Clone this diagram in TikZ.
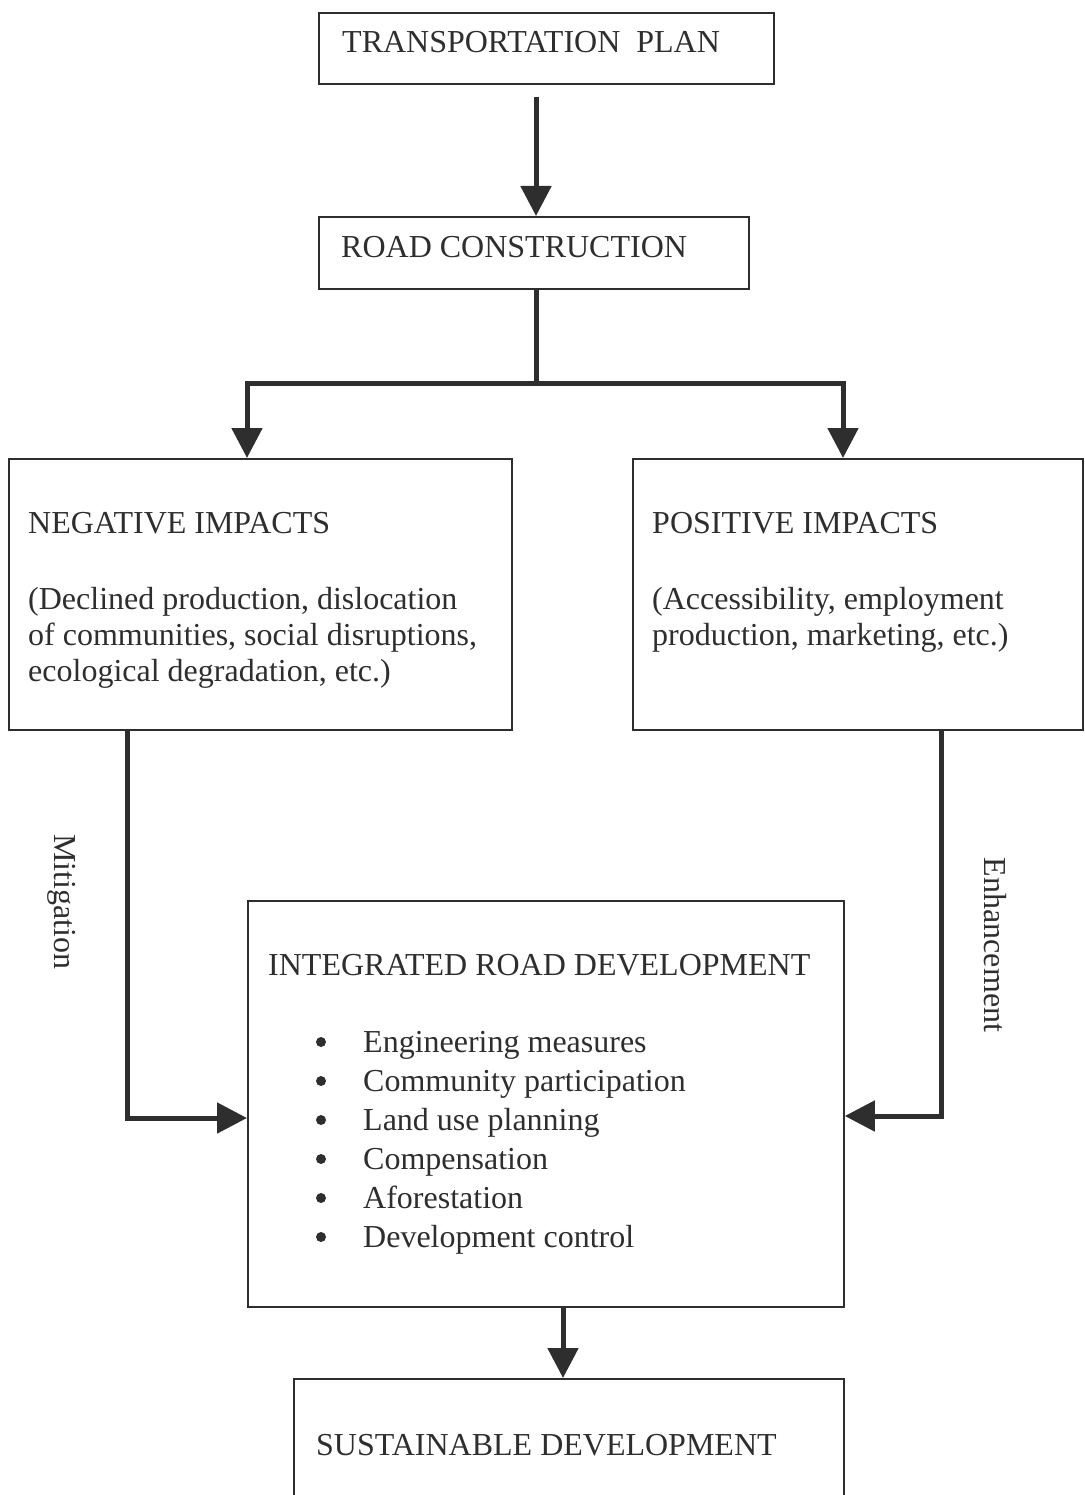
\documentclass[tikz,border=0pt]{standalone}
\usepackage{fontspec}
\setmainfont{Liberation Serif}
\usetikzlibrary{arrows.meta}
\definecolor{ink}{HTML}{2E2E2E}
\begin{document}
\begin{tikzpicture}[x=1pt,y=-1pt,
  box/.style={draw=ink, line width=1.8pt, inner sep=0pt, anchor=north west},
  lbl/.style={anchor=base west, inner sep=0pt, text=ink, font=\fontsize{32}{38}\selectfont},
  bul/.style={circle, fill=ink, inner sep=0pt, minimum size=10pt},
  conn/.style={draw=ink, line width=5pt, line join=miter},
  tip/.tip={Triangle[length=30pt,width=30pt]},
  arr/.style={conn, -tip},
]
\useasboundingbox (0,0) rectangle (1084,1495);
\clip (0,0) rectangle (1084,1495);

% boxes
\node[box, minimum width=455pt, minimum height=71pt] (tp) at (318,12) {};
\node[box, minimum width=430pt, minimum height=72pt] (rc) at (318,216) {};
\node[box, minimum width=503pt, minimum height=271pt] (neg) at (8,458) {};
\node[box, minimum width=450pt, minimum height=271pt] (pos) at (632,458) {};
\node[box, minimum width=596pt, minimum height=406pt] (int) at (247,900) {};
\node[box, minimum width=550pt, minimum height=140pt] (sd) at (293,1378) {};

% texts
\node[lbl] (tptext) at (342,53) {TRANSPORTATION\ \ PLAN};
\node[lbl] (rctext) at (341,258) {ROAD CONSTRUCTION};
\node[lbl] (negtitle) at (28,533) {NEGATIVE IMPACTS};
\node[lbl] (neg1) at (28,609) {(Declined production, dislocation};
\node[lbl] (neg2) at (28,645) {of communities, social disruptions,};
\node[lbl] (neg3) at (28,681) {ecological degradation, etc.)};
\node[lbl] (postitle) at (652,533) {POSITIVE IMPACTS};
\node[lbl] (pos1) at (652,609) {(Accessibility, employment};
\node[lbl] (pos2) at (652,645) {production, marketing, etc.)};
\node[lbl] (inttitle) at (268,975) {INTEGRATED ROAD DEVELOPMENT};
\foreach \t [count=\i] in {Engineering measures,Community participation,Land use planning,Compensation,Aforestation,Development control}{
  \node[bul] (b\i) at (321,{1042+39*(\i-1)}) {};
  \node[lbl] (item\i) at (363,{1052+39*(\i-1)}) {\t};
}
\node[lbl] (sdtext) at (316,1455) {SUSTAINABLE DEVELOPMENT};
\node[inner sep=0pt, text=ink, font=\fontsize{32}{38}\selectfont, rotate=-90] (mit) at (62,902) {Mitigation};
\node[inner sep=0pt, text=ink, font=\fontsize{32}{38}\selectfont, rotate=-90] (enh) at (995,945) {Enhancement};

% connector coordinates
\coordinate (c1) at (536,97);
\coordinate (split) at (536,383);
\coordinate (nl) at (247,383);
\coordinate (pr) at (843,383);
\coordinate (mc) at (127,1118);
\coordinate (ec) at (941,1116);
\coordinate (sc) at (563,0);

% connectors
\draw[arr] (c1) -- (c1 |- rc.north);
\draw[conn] (split |- rc.south) -- (split);
\draw[conn, tip-tip] (nl |- neg.north) -- (nl) -- (pr) -- (pr |- pos.north);
\draw[arr] (neg.south -| mc) -- (mc) -- (mc -| int.west);
\draw[arr] (pos.south -| ec) -- (ec) -- (ec -| int.east);
\draw[arr] (int.south -| sc) -- (sd.north -| sc);
\end{tikzpicture}
\end{document}
